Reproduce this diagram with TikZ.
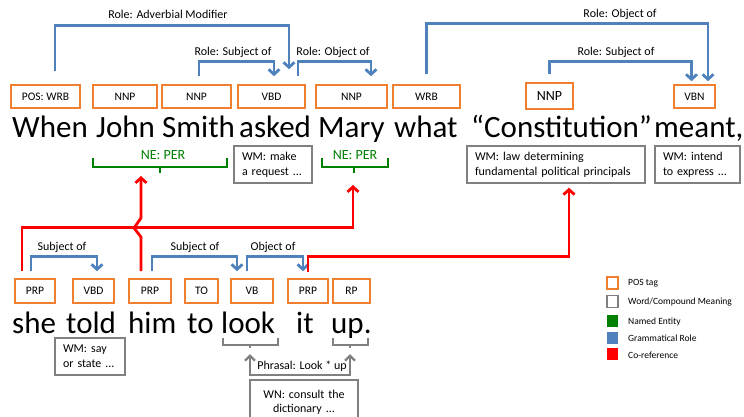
\documentclass[tikz,border=0pt]{standalone}
\usepackage{fontspec}
\setmainfont{Carlito}
\usetikzlibrary{arrows.meta}
\definecolor{posorange}{RGB}{240,128,48}
\definecolor{roleblue}{RGB}{79,129,189}
\definecolor{negreen}{RGB}{0,128,0}
\definecolor{corefred}{RGB}{255,0,0}
\definecolor{wmgray}{RGB}{128,128,128}
\begin{document}
\begin{tikzpicture}[x=1pt,y=-1pt,
  postag/.style={draw=posorange, line width=1.6pt, minimum height=23pt, inner sep=0pt, font=\fontsize{11.5}{13}\selectfont},
  wmbox/.style={draw=wmgray, line width=1.4pt, minimum height=37pt, inner xsep=8pt, inner ysep=0pt, align=left, font=\fontsize{12}{15}\selectfont},
  word/.style={anchor=base west, inner sep=0pt, font=\fontsize{31}{36}\selectfont},
  role/.style={draw=roleblue, line width=2.8pt, -{Straight Barb[length=5pt,width=11pt]}},
  rolelab/.style={inner sep=0pt, font=\fontsize{12}{14}\selectfont},
  coref/.style={draw=corefred, line width=2.8pt, -{Straight Barb[length=5pt,width=11pt]}},
  nebrace/.style={draw=negreen, line width=2.2pt},
  netext/.style={inner sep=0pt, text=negreen, font=\fontsize{14}{16}\selectfont},
  phrase/.style={draw=wmgray, line width=2.4pt},
  phrtip/.style={{Straight Barb[length=5pt,width=10pt]}-{Straight Barb[length=5pt,width=10pt]}},
  legtext/.style={anchor=west, inner sep=0pt, font=\fontsize{9.5}{11}\selectfont},
  legbox/.style={minimum width=11pt, minimum height=12pt, inner sep=0pt}
]
\useasboundingbox (0,0) rectangle (744,416);
\clip (0,0) rectangle (744,416);

% ---------- upper sentence ----------
\node[word] (w1) at (12,137) {When};
\node[word] (w2) at (96,137) {John};
\node[word] (w3) at (162,137) {Smith};
\node[word] (w4) at (239,137) {asked};
\node[word] (w5) at (318,137) {Mary};
\node[word] (w6) at (394,137) {what};
\node[word] (w7) at (471,137) {“Constitution”};
\node[word] (w8) at (654,137) {meant,};

% POS tags upper
\node[postag, minimum width=69pt] (pos1) at (45.5,96.5) {POS: WRB};
\node[postag, minimum width=64pt] (pos2) at (125,96.5) {NNP};
\node[postag, minimum width=69pt] (pos3) at (196.5,96.5) {NNP};
\node[postag, minimum width=67pt] (pos4) at (271.5,96.5) {VBD};
\node[postag, minimum width=71pt] (pos5) at (351.5,96.5) {NNP};
\node[postag, minimum width=67pt] (pos6) at (426.5,96.5) {WRB};
\node[postag, minimum width=47pt, minimum height=26pt, font=\fontsize{14}{16}\selectfont] (pos7) at (549.5,96) {NNP};
\node[postag, minimum width=41pt] (pos8) at (694.5,96.5) {VBN};

% roles upper
\draw[role] ([xshift=9.5pt,yshift=13pt]pos1.north) -- ++(0,-46) -| ([xshift=17.5pt,yshift=15pt]pos4.north);
\node[rolelab] (r1) at (168,14) {Role: Adverbial Modifier};
\draw[role] ([xshift=2.5pt,yshift=8pt]pos3.north) -- ++(0,-15) -| ([xshift=2.5pt,yshift=8pt]pos4.north);
\node[rolelab] (r2) at (233,52) {Role: Subject of};
\draw[role] ([xshift=26.5pt,yshift=8pt]pos4.north) -- ++(0,-15) -| ([xshift=19.5pt,yshift=8pt]pos5.north);
\node[rolelab] (r3) at (333,52) {Role: Object of};
\draw[role] ([yshift=10pt]pos6.north) -- ++(0,-51) -| ([xshift=13.5pt,yshift=3pt]pos8.north);
\node[rolelab] (r4) at (620,14) {Role: Object of};
\draw[role] ([yshift=8pt]pos7.north) -- ++(0,-13) -| ([xshift=-3pt,yshift=3pt]pos8.north);
\node[rolelab] (r5) at (616,52) {Role: Subject of};

% named entities
\node[netext] (ne1) at (163,155) {NE: PER};
\draw[nebrace] (93,158) |- (227,167) -- (227,158);
\draw[nebrace] (160,167) -- (160,173);
\node[netext] (ne2) at (355,155) {NE: PER};
\draw[nebrace] (322,158) |- (388,167) -- (388,158);
\draw[nebrace] (354,167) -- (354,173);
\coordinate (ne1tip) at (141,176);
\coordinate (ne2tip) at (353,185);

% word meanings upper
\node[wmbox, minimum width=78pt, text width=62pt] (wm1) at (273,164.5) {WM: make\\a request ...};
\node[wmbox, minimum width=178pt, text width=162pt] (wm2) at (556,164.5) {WM: law determining\\fundamental political principals};
\node[wmbox, minimum width=85pt, text width=69pt] (wm3) at (697.5,164.5) {WM: intend\\to express ...};

% ---------- lower sentence ----------
\node[word] (v1) at (12,333) {she};
\node[word] (v2) at (66,333) {told};
\node[word] (v3) at (128,333) {him};
\node[word] (v4) at (187,333) {to};
\node[word] (v5) at (221,333) {look};
\node[word] (v6) at (296,333) {it};
\node[word] (v7) at (331,333) {up.};

\node[postag, minimum width=40pt, minimum height=24pt] (p1) at (35,291) {PRP};
\node[postag, minimum width=41pt, minimum height=24pt] (p2) at (93.5,291) {VBD};
\node[postag, minimum width=42pt, minimum height=24pt] (p3) at (150,291) {PRP};
\node[postag, minimum width=33pt, minimum height=24pt] (p4) at (201.5,291) {TO};
\node[postag, minimum width=42pt, minimum height=24pt] (p5) at (252,291) {VB};
\node[postag, minimum width=40pt, minimum height=24pt] (p6) at (308,291) {PRP};
\node[postag, minimum width=37pt, minimum height=24pt] (p7) at (351.5,291) {RP};

% roles lower
\draw[role] ([xshift=-4pt,yshift=7pt]p1.north) -- ++(0,-15) -| ([xshift=3.5pt,yshift=7pt]p2.north);
\node[rolelab] (s1) at (62,247) {Subject of};
\draw[role] ([xshift=2pt,yshift=7pt]p3.north) -- ++(0,-15) -| ([xshift=-15pt,yshift=7pt]p5.north);
\node[rolelab] (s2) at (195,247) {Subject of};
\draw[role] ([xshift=-5pt,yshift=7pt]p5.north) -- ++(0,-15) -| ([xshift=-5pt,yshift=7pt]p6.north);
\node[rolelab] (s3) at (273,247) {Object of};

% co-reference
\draw[coref] ([xshift=-13pt,yshift=7pt]p1.north) -- ++(0,-44) -| (ne2tip);
\draw[coref] ([xshift=-9pt,yshift=7pt]p3.north) -- (141,237) -- (134,228) -- (141,218) -- (ne1tip);
\draw[coref] ([yshift=6pt]p6.north) -- ++(0,-16) -| ([xshift=13pt,yshift=-4pt]wm2.south);

% word meaning lower
\node[wmbox, minimum width=70pt, text width=54pt] (wm4) at (90,356.5) {WM: say\\or state ...};

% phrasal verb
\draw[phrase] (223,338) |- (278,345) -- (278,338);
\draw[phrase] (250,345) -- (250,348);
\draw[phrase] (333,338) |- (368,345) -- (368,338);
\draw[phrase] (350,345) -- (350,348);
\coordinate (lookb) at (250,354);
\coordinate (upb) at (350,354);
\draw[phrase, phrtip] (lookb) |- (350,375) -- (upb);
\node[rolelab] (phr) at (302,366) {Phrasal: Look * up};
\node[wmbox, align=center, minimum width=108pt, text width=92pt, minimum height=44pt, font=\fontsize{12}{14}\selectfont] (wn) at (304,402) {WN: consult the\\dictionary ...};

% legend
\node[legbox, draw=posorange, line width=1.2pt] (lg1) at (612.5,283) {};
\node[legtext] (lt1) at (628,283) {POS tag};
\node[legbox, draw=wmgray, line width=1.2pt] (lg2) at (612.5,301.5) {};
\node[legtext] (lt2) at (628,302) {Word/Compound Meaning};
\node[legbox, fill=negreen] (lg3) at (612.5,321) {};
\node[legtext] (lt3) at (628,322) {Named Entity};
\node[legbox, fill=roleblue] (lg4) at (612.5,337.5) {};
\node[legtext] (lt4) at (628,338) {Grammatical Role};
\node[legbox, fill=corefred] (lg5) at (612.5,354) {};
\node[legtext] (lt5) at (628,355) {Co-reference};
\end{tikzpicture}
\end{document}
